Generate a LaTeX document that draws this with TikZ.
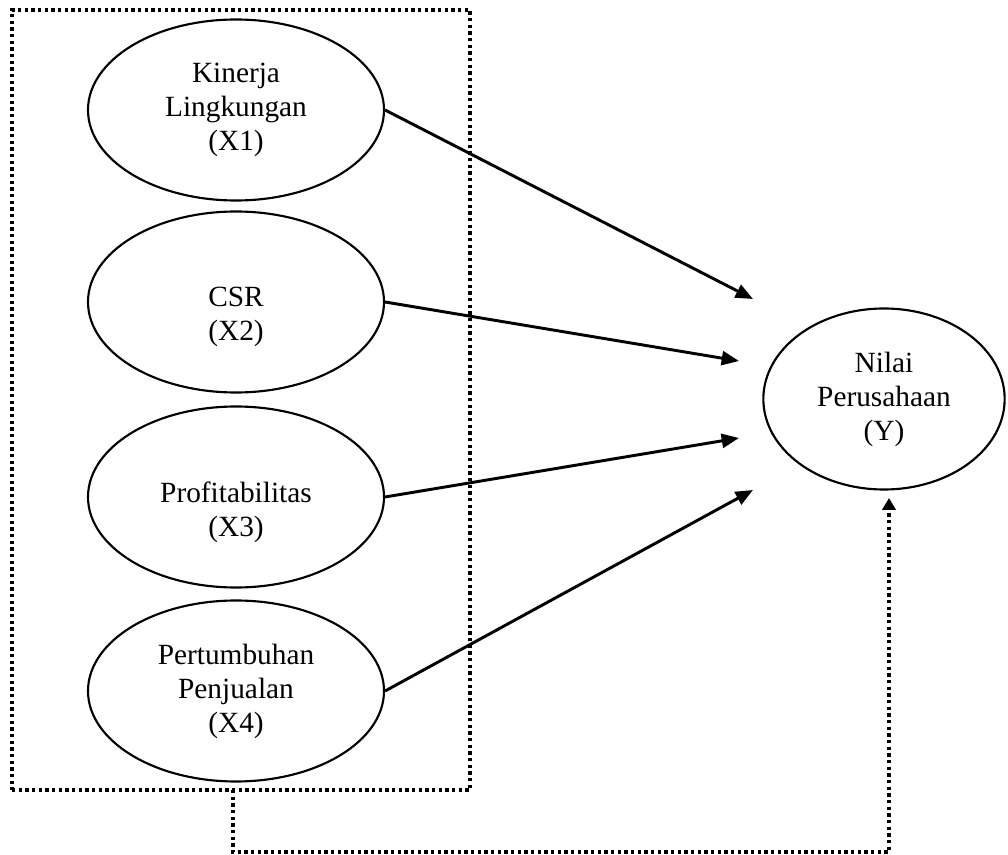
\documentclass[tikz,border=0pt]{standalone}
\usepackage{fontspec}
\setmainfont{Liberation Serif}
\usetikzlibrary{shapes.geometric,arrows.meta}
\begin{document}
\begin{tikzpicture}[x=0.75pt,y=-0.75pt,
  ell/.style={ellipse,draw,line width=1.6pt,inner sep=0pt,minimum width=222pt,minimum height=135.75pt},
  txt/.style={align=center,font=\fontsize{22}{25.5}\selectfont,inner sep=0pt},
  dotline/.style={line width=2.4pt,dash pattern=on 2.4pt off 2.6pt},
  arr/.style={line width=2.2pt,-{Triangle[length=13pt,width=10.5pt]}}
]
\useasboundingbox (0,0) rectangle (1008,855);

% dotted grouping box
\node[draw,dotline,inner sep=0pt,minimum width=343.5pt,minimum height=585pt] (box) at (241,400) {};

% independent variables
\node[ell,txt] (x1) at (236,110) {Kinerja\\Lingkungan\\(X1)};
\node[ell] (x2) at (236,302) {};
\node[txt] (x2t) at (236,317) {CSR\\(X2)};
\node[ell] (x3) at (236,497) {};
\node[txt] (x3t) at (236,512) {Profitabilitas\\(X3)};
\node[ell,txt] (x4) at (236,691) {Pertumbuhan\\Penjualan\\(X4)};

% dependent variable
\node[ell,txt,minimum width=181pt] (y) at (884,399) {Nilai\\Perusahaan\\(Y)};

% arrow end points
\coordinate (t1) at (753,299);
\coordinate (t2) at (739,361);
\coordinate (t3) at (739,438);
\coordinate (t4) at (753,490);

\draw[arr] (x1.east) -- (t1);
\draw[arr] (x2.east) -- (t2);
\draw[arr] (x3.east) -- (t3);
\draw[arr] (x4.east) -- (t4);

% simultaneous dotted connector
\coordinate (c0) at (233,790);
\coordinate (yin) at (889,498);
\draw[dotline,-{Triangle[length=9pt,width=10pt]}] (c0) -- (233,852) -| (yin);
\end{tikzpicture}
\end{document}
